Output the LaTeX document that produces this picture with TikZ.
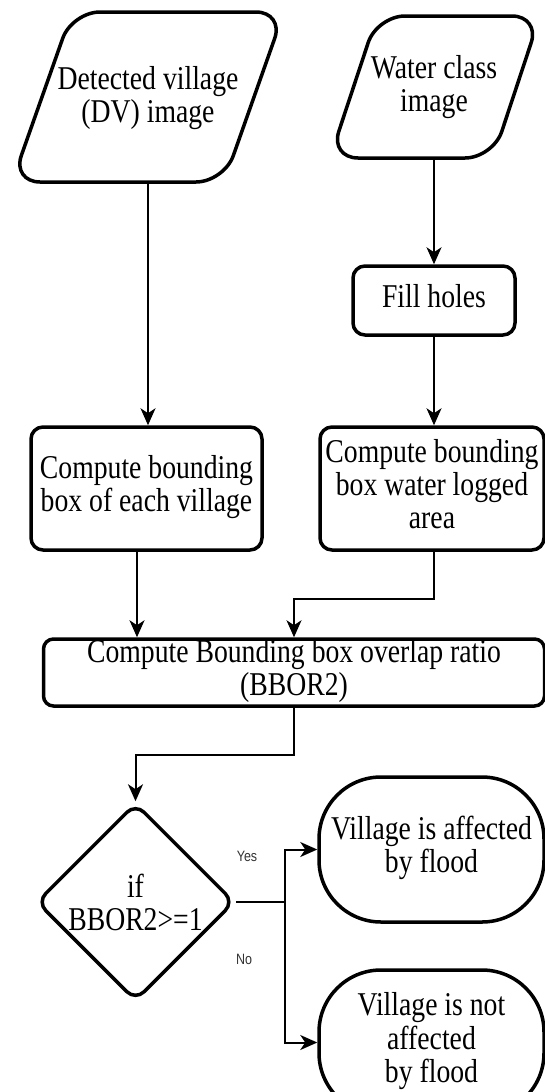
\documentclass[tikz,border=0pt]{standalone}
\usepackage{fontspec}
\setmainfont{Liberation Serif}
\usetikzlibrary{shapes.geometric,arrows.meta,calc}
\newcommand{\vtxt}[1]{\scalebox{1}[1.2]{\begin{tabular}{@{}c@{}}#1\end{tabular}}}
\tikzset{
  txt/.style={font=\fontsize{27.7pt}{27.5pt}\selectfont, align=center, inner sep=0pt},
  inv/.style={txt, draw=none},
  pbox/.style={txt, draw, line width=3.5pt, rounded corners=12pt},
  term/.style={txt, draw, line width=3.5pt, rounded corners=62pt},
  dec/.style={draw, line width=3.5pt, diamond, aspect=1, inner sep=0pt, rounded corners=12pt},
  pshape/.style={draw, line width=3.5pt, rounded corners=28pt},
  conn/.style={line width=2pt, -{Stealth[length=17pt,width=15pt,inset=5pt]}},
  line/.style={line width=2pt},
  lbl/.style={font=\fontspec{Liberation Sans}\fontsize{12.5pt}{14pt}\selectfont, text=black!80, inner sep=0pt}
}
\begin{document}
\begin{tikzpicture}[x=1pt,y=-1pt]
\useasboundingbox (0,0) rectangle (545,1092);
% input parallelograms
\node[inv, minimum width=150pt, minimum height=170pt] (dv) at (148,99) {\vtxt{Detected village\\(DV) image}};
\draw[pshape] (178,12) -- (284,12) -- (224,182) -- (12,182) -- (72,12) -- cycle;
\node[inv, minimum width=150pt, minimum height=142pt] (wc) at (434,88) {\vtxt{Water class\\image}};
\draw[pshape] (460,16) -- (540,16) -- (493,158) -- (330,158) -- (377,16) -- cycle;
% process boxes
\node[pbox, minimum width=162pt, minimum height=69pt] (fill) at (434,300.5) {\vtxt{Fill holes}};
\node[pbox, minimum width=231pt, minimum height=123pt] (cb1) at (146.5,488.5) {\vtxt{Compute bounding\\box of each village}};
\node[pbox, minimum width=224pt, minimum height=123pt] (cb2) at (432,488.5) {\vtxt{Compute bounding\\box water logged\\area}};
\node[pbox, rounded corners=10pt, minimum width=501pt, minimum height=67pt] (bbor) at (294,672.5) {\vtxt{Compute Bounding box overlap ratio\\(BBOR2)}};
% decision
\node[dec, minimum width=198pt, minimum height=198pt] (dia) at (135.5,902) {};
\node[txt] (diat) at (135.5,907) {\vtxt{if\\BBOR2>=1}};
% terminals
\node[term, minimum width=225pt, minimum height=145pt] (t1) at (431.5,849.5) {\vtxt{Village is affected\\by flood}};
\node[term, minimum width=225pt, minimum height=145pt] (t2) at (431.5,1042.5) {\vtxt{Village is not\\affected\\by flood}};
% connectors
\draw[conn] (dv.south) -- (dv.south |- cb1.north);
\draw[conn] (wc.south) -- (wc.south |- fill.north);
\draw[conn] (fill.south) -- (fill.south |- cb2.north);
\draw[conn] ([xshift=-9.5pt]cb1.south) -- ([xshift=-9.5pt]cb1.south |- bbor.north);
\draw[conn] (fill.south |- cb2.south) -- ++(0,47) -| (bbor.north);
\draw[conn] (bbor.south) -- ++(0,47) -| (dia.north);
\coordinate (split) at (285,902);
\draw[line] (dia.east) -- (split);
\draw[conn] (split) |- (t1.west);
\draw[conn] (split) |- (t2.west);
\node[lbl] (yes) at (247,856) {\scalebox{1}[1.2]{Yes}};
\node[lbl] (no) at (244,959) {\scalebox{1}[1.2]{No}};
\end{tikzpicture}
\end{document}
